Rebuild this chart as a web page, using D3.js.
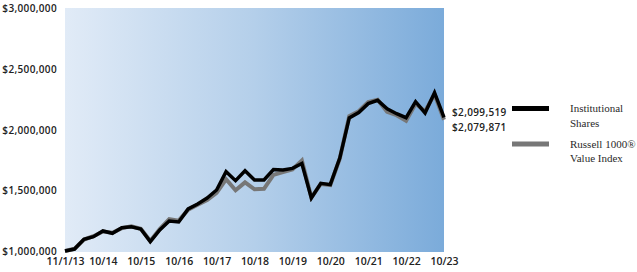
<!DOCTYPE html>
<html>
<head>
<meta charset="utf-8">
<script src="https://cdn.jsdelivr.net/npm/d3@7"></script>
<style>
  html, body { margin: 0; padding: 0; background: #fff; }
  svg { display: block; }
  .axis text { font-family: "Open Sans", sans-serif; fill: #222; }
</style>
</head>
<body>
<svg id="chart" width="637" height="272"></svg>
<script>
// Quarterly periods, 11/1/13 through 10/31/23
const periods = [
  "11/13","1/14","4/14","7/14","10/14","1/15","4/15","7/15","10/15",
  "1/16","4/16","7/16","10/16","1/17","4/17","7/17","10/17",
  "1/18","4/18","7/18","10/18","1/19","4/19","7/19","10/19",
  "1/20","4/20","7/20","10/20","1/21","4/21","7/21","10/21",
  "1/22","4/22","7/22","10/22","1/23","4/23","7/23","10/23"
];
const institutional = [
  1000000,1016000,1096000,1118000,1165000,1146000,1192000,1200000,1181000,
  1077000,1173000,1247000,1239000,1346000,1387000,1436000,1502000,
  1653000,1579000,1661000,1584000,1584000,1670000,1667000,1680000,
  1720000,1436000,1557000,1546000,1765000,2095000,2140000,2213000,
  2240000,2170000,2130000,2097000,2229000,2136000,2303000,2099519
];
const russell = [
  1000000,1018000,1094000,1122000,1160000,1150000,1188000,1204000,1183000,
  1082000,1180000,1262000,1250000,1340000,1380000,1420000,1478000,
  1590000,1500000,1565000,1508000,1512000,1626000,1650000,1672000,
  1745000,1440000,1552000,1543000,1760000,2110000,2150000,2225000,
  2245000,2145000,2118000,2072000,2212000,2150000,2290000,2079871
];
const tickPeriods = ["11/13","10/14","10/15","10/16","10/17","10/18","10/19","10/20","10/21","10/22","10/23"];
const tickLabels  = ["11/1/13","10/14","10/15","10/16","10/17","10/18","10/19","10/20","10/21","10/22","10/23"];
const yTicks = [1000000,1500000,2000000,2500000,3000000];
const seriesNames = [["Institutional","Shares"],["Russell 1000®","Value Index"]];
const endLabels = ["$2,099,519","$2,079,871"];

const svg = d3.select("#chart");
const m = {left: 65, right: 444, top: 8, bottom: 251};

const x = d3.scalePoint().domain(periods).range([m.left, m.right]);
const y = d3.scaleLinear().domain([1000000, 3000000]).range([m.bottom, m.top]);

// background gradient
const defs = svg.append("defs");
const grad = defs.append("linearGradient").attr("id","bg").attr("x1","0").attr("x2","1").attr("y1","0").attr("y2","0");
grad.append("stop").attr("offset","0").attr("stop-color","#e1ebf7");
grad.append("stop").attr("offset","0.5").attr("stop-color","#b4cfea");
grad.append("stop").attr("offset","1").attr("stop-color","#7babda");

svg.append("rect")
  .attr("x", m.left).attr("y", m.top)
  .attr("width", m.right - m.left).attr("height", m.bottom - m.top + 1)
  .attr("fill", "url(#bg)");

// y axis
const yAxis = svg.append("g").attr("class","axis")
  .attr("transform", `translate(${m.left - 8},0)`)
  .call(d3.axisLeft(y).tickValues(yTicks).tickSize(0).tickPadding(0)
    .tickFormat(d => "$" + d3.format(",")(d)));
yAxis.select(".domain").remove();
yAxis.selectAll("text").attr("font-size", "10px").attr("font-weight","600")
  .attr("letter-spacing","0.35px").attr("dy", "0.36em");

// x axis
const xAxis = svg.append("g").attr("class","axis")
  .attr("transform", `translate(0,${m.bottom + 5})`)
  .call(d3.axisBottom(x).tickValues(tickPeriods).tickSize(0).tickPadding(0)
    .tickFormat((d,i) => tickLabels[i]));
xAxis.select(".domain").remove();
xAxis.selectAll("text").attr("font-size", "10.5px").attr("font-weight","600").attr("dy","0.9em");

// lines
const line = d3.line().x((d,i) => x(periods[i])).y(d => y(d)).curve(d3.curveLinear);
svg.append("path").datum(russell)
  .attr("d", line).attr("fill","none").attr("stroke","#777")
  .attr("stroke-width", 4).attr("stroke-linejoin","miter");
svg.append("path").datum(institutional)
  .attr("d", line).attr("fill","none").attr("stroke","#000")
  .attr("stroke-width", 3.5).attr("stroke-linejoin","miter");

// end labels
svg.selectAll(".endlab").data(endLabels).enter().append("text")
  .attr("x", 452).attr("y", (d,i) => 112 + i*15).attr("dy","0.36em")
  .attr("font-family","Open Sans, sans-serif").attr("font-size","10px")
  .attr("letter-spacing","0.35px")
  .attr("font-weight","600").attr("fill","#222").text(d => d);

// legend
const legColors = ["#000","#777"];
const leg = svg.selectAll(".leg").data(seriesNames).enter().append("g")
  .attr("transform",(d,i) => `translate(0,${108.5 + i*35.5})`);
leg.append("rect").attr("x",512).attr("y",-2.5).attr("width",37).attr("height",5)
  .attr("fill",(d,i) => legColors[i]);
leg.each(function(d){
  const t = d3.select(this).append("text")
    .attr("font-family","Liberation Serif, Times New Roman, serif")
    .attr("font-size","11px").attr("fill","#2a2a2a");
  d.forEach((s,j) => t.append("tspan").attr("x",570).attr("y", j*14.5).attr("dy","0.36em").text(s));
});
</script>
</body>
</html>
